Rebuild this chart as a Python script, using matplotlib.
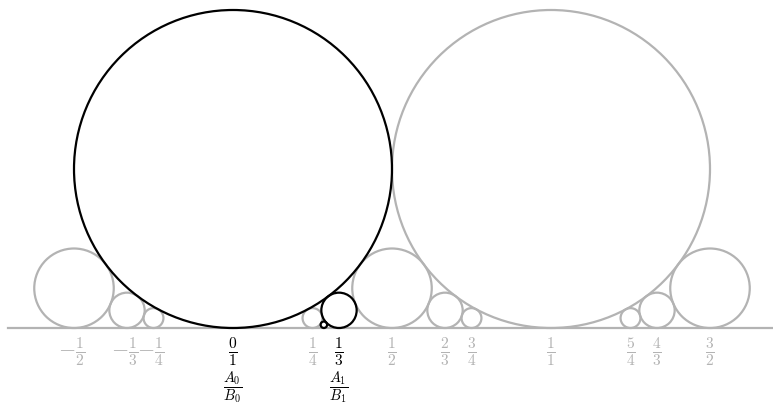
import matplotlib.pyplot as plt
from matplotlib.patches import Circle

plt.rcParams['mathtext.fontset'] = 'cm'

# gray Ford circles (p, q)
gray_fracs = [(-1, 2), (-1, 3), (-1, 4), (1, 4), (1, 2), (2, 3), (3, 4),
              (1, 1), (5, 4), (4, 3), (3, 2)]
# black circles (p, q)
black_fracs = [(0, 1), (1, 3), (2, 7)]
# labelled fractions in black
black_labels = [(0, 1), (1, 3)]
conv_labels = [r'$\dfrac{A_0}{B_0}$', r'$\dfrac{A_1}{B_1}$']

gray = '#b3b3b3'

fig = plt.figure(figsize=(7.73, 4.06), dpi=100)
ax = fig.add_axes([0, 0, 1, 1])
ax.set_xlim((0 - 233) / 318, (773 - 233) / 318)
ax.set_ylim(-77 / 318, 329 / 318)
ax.set_aspect('equal')
ax.axis('off')

ax.plot([(8 - 233) / 318, (772 - 233) / 318], [0, 0], color=gray, lw=1.6, zorder=1)

def draw(p, q, color):
    r = 1 / (2 * q * q)
    ax.add_patch(Circle((p / q, r), r, fill=False, edgecolor=color, lw=1.6, zorder=2))

def label(p, q, color):
    if p < 0:
        s = r'$-\frac{%d}{%d}$' % (-p, q)
        x = p / q - 0.008
    else:
        s = r'$\frac{%d}{%d}$' % (p, q)
        x = p / q
    ax.text(x, -0.072, s, color=color, fontsize=16, ha='center', va='center')

for p, q in gray_fracs:
    draw(p, q, gray)
    label(p, q, gray)

for p, q in black_fracs:
    draw(p, q, 'black')

for (p, q), s in zip(black_labels, conv_labels):
    label(p, q, 'black')
    ax.text(p / q, -0.184, s, color='black', fontsize=10.5, ha='center', va='center')

fig.savefig('out.png', dpi=100)
